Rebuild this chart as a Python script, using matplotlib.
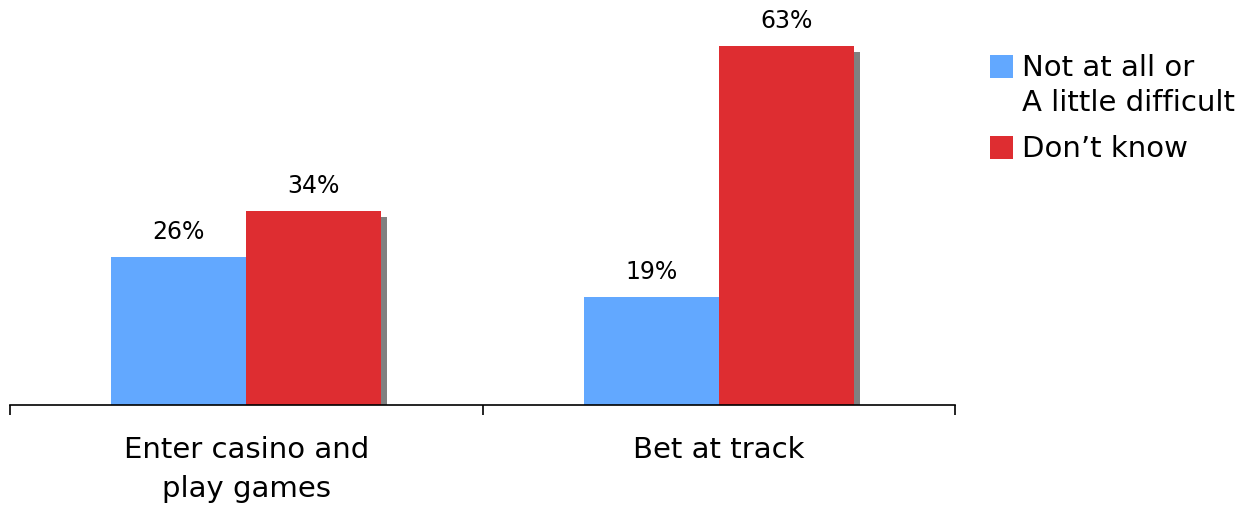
import matplotlib
matplotlib.use("Agg")
import matplotlib.pyplot as plt
import matplotlib.patheffects as pe
from matplotlib.patches import Rectangle
import numpy as np

categories = ["Enter casino and\nplay games", "Bet at track"]
series_names = ["Not at all or\nA little difficult", "Don\u2019t know"]
not_difficult = [26, 19]
dont_know = [34, 63]
colors = ["#62A8FF", "#DE2D31"]

plt.rcParams['font.family'] = ['DejaVu Sans']

W, H = 1245, 508
fig = plt.figure(figsize=(W / 100, H / 100), dpi=100)
ax = fig.add_axes([10 / W, 103 / H, 945 / W, 399 / H])

x = np.arange(len(categories)) + 0.5
w = 0.2857
shadow = [pe.SimplePatchShadow(offset=(4.3, -4.3), shadow_rgbFace="#808080", alpha=1.0), pe.Normal()]

for vals, off, c in [(not_difficult, -w / 2, colors[0]), (dont_know, w / 2, colors[1])]:
    bars = ax.bar(x + off, vals, width=w, color=c, linewidth=0)
    for b, v in zip(bars, vals):
        b.set_path_effects(shadow)
        ax.annotate(f"{v}%", (b.get_x() + b.get_width() / 2, v), xytext=(0, 13),
                    textcoords="offset points", ha="center", va="baseline", fontsize=17)

ax.set_xlim(0, 2)
ax.set_ylim(0, 70)
for s in ["top", "right", "left"]:
    ax.spines[s].set_visible(False)
ax.spines["bottom"].set_linewidth(1.2)
ax.set_yticks([])
ax.set_xticks([0, 1, 2])
ax.set_xticklabels([])
ax.tick_params(axis="x", which="major", direction="out", length=7, width=1.2)
ax.set_xticks(x, minor=True)
ax.set_xticklabels(categories, minor=True, fontsize=21, linespacing=1.5)
ax.tick_params(axis="x", which="minor", length=0, pad=22)

# legend drawn by hand so the swatch lines up with the first text line
for c, name, top in zip(colors, series_names, [55, 136]):
    fig.patches.append(Rectangle((990 / W, 1 - (top + 23) / H), 23 / W, 23 / H,
                                 transform=fig.transFigure, facecolor=c, edgecolor="none"))
    fig.text(1022 / W, 1 - (top - 1) / H, name, fontsize=21, va="top", ha="left",
             linespacing=1.3)

fig.savefig("out.png", dpi=100)
